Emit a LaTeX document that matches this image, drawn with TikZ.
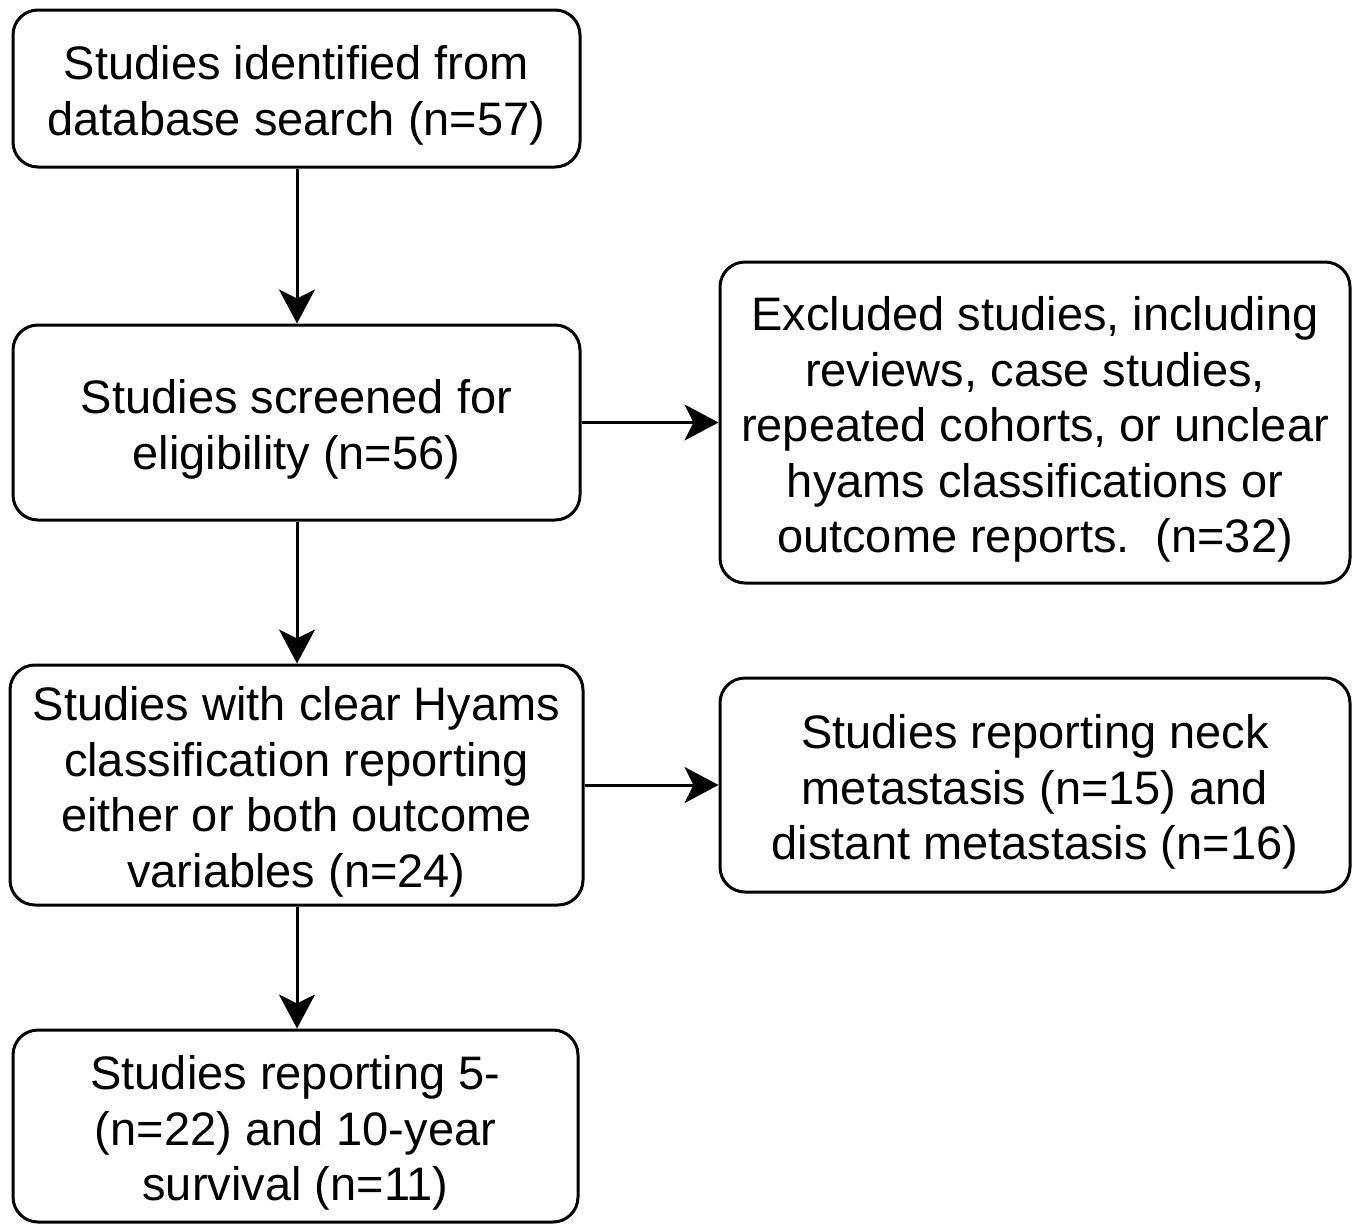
\documentclass[tikz,border=0pt]{standalone}
\usepackage{fontspec}
\setmainfont{Liberation Sans}
\usetikzlibrary{arrows.meta}
\newcommand{\tstrut}{\rule{0pt}{48pt}}
\begin{document}
\begin{tikzpicture}[x=1pt,y=-1pt,
  box/.style={draw=black,line width=3pt,rounded corners=25pt,fill=white,inner sep=0pt,
    align=center,font=\fontsize{47}{55.5}\selectfont},
  conn/.style={line width=3pt,-{Stealth[length=34pt,width=36pt,inset=9pt]}}]
\useasboundingbox (0,0) rectangle (1357,1224);
\node[box,minimum width=567pt,minimum height=157pt] (a) at (296.5,88.5)
  {\tstrut Studies identified from\\database search (n=57)};
\node[box,minimum width=567pt,minimum height=195pt] (b) at (296.5,422.5)
  {\tstrut Studies screened for\\eligibility (n=56)};
\node[box,minimum width=630pt,minimum height=321pt] (c) at (1035,422.5)
  {\tstrut Excluded studies, including\\reviews, case studies,\\repeated cohorts, or unclear\\hyams classifications or\\outcome reports.\ \ (n=32)};
\node[box,minimum width=573pt,minimum height=240pt] (d) at (296.5,785)
  {\tstrut Studies with clear Hyams\\classification reporting\\either or both outcome\\variables (n=24)};
\node[box,minimum width=630pt,minimum height=214pt] (e) at (1035,785)
  {\tstrut Studies reporting neck\\metastasis (n=15) and\\distant metastasis (n=16)};
\node[box,minimum width=565pt,minimum height=192pt] (f) at (295.5,1126)
  {\tstrut Studies reporting 5-\\(n=22) and 10-year\\survival (n=11)};
\draw[conn] (a.south -| 297,0) -- (b.north -| 297,0);
\draw[conn] (b.east) -- (c.west |- b.east);
\draw[conn] (b.south -| 297,0) -- (d.north -| 297,0);
\draw[conn] (d.east) -- (e.west |- d.east);
\draw[conn] (d.south -| 297,0) -- (f.north -| 297,0);
\end{tikzpicture}
\end{document}
